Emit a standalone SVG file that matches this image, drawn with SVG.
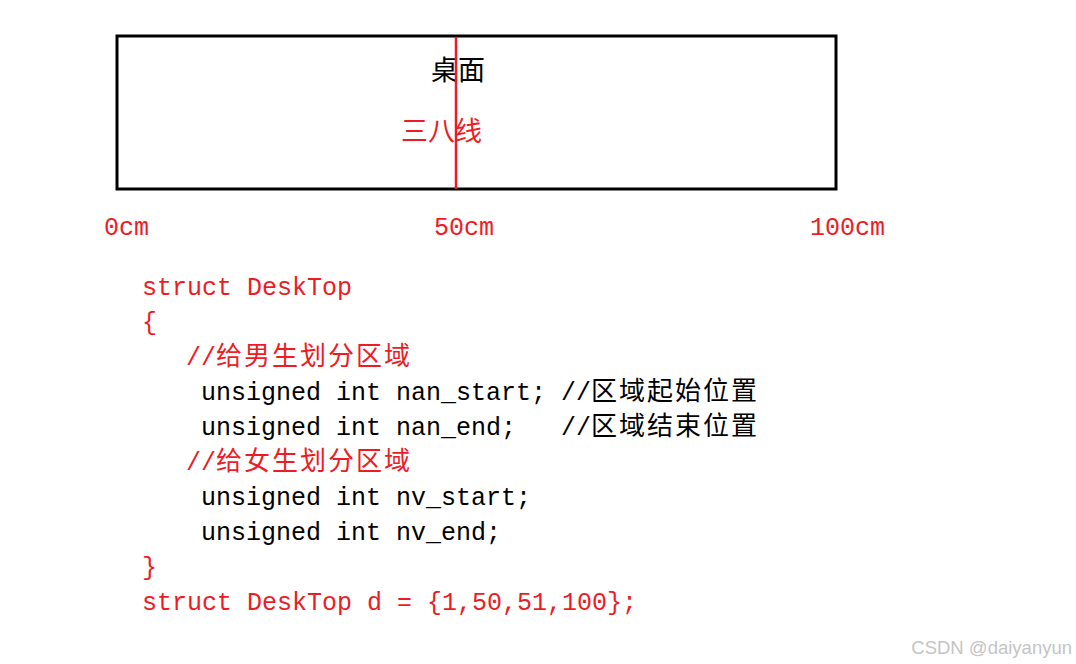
<svg xmlns="http://www.w3.org/2000/svg" width="1076" height="664" viewBox="0 0 1076 664">
<style>
.m{font-family:"Liberation Mono","Noto Sans CJK SC",monospace;font-size:25px}
.c{font-family:"Noto Sans CJK SC","Liberation Serif",serif;font-size:26px;letter-spacing:2px}
.t{font-family:"Noto Sans CJK SC","Liberation Serif",serif;font-size:27px}
.r{fill:#ed1c24}
.k{fill:#000}
</style>
<rect width="1076" height="664" fill="#fff"/>
<g id="desk">
<rect x="117" y="36" width="719" height="153" fill="none" stroke="#000" stroke-width="3"/>
<text x="431" y="80" class="t k">桌面</text>
</g>
<g id="line38">
<line x1="456" y1="37" x2="456" y2="189" stroke="#ed1c24" stroke-width="2.5"/>
<text x="401" y="141" class="t r">三八线</text>
</g>
<g id="scale">
<text x="104" y="235" class="m r">0cm</text>
<text x="434" y="235" class="m r">50cm</text>
<text x="810" y="235" class="m r">100cm</text>
</g>
<g id="code">
<text x="142" y="295" class="m r">struct DeskTop</text>
<text x="142" y="330" class="m r">{</text>
<text x="186" y="365" class="m r">//<tspan class="c">给男生划分区域</tspan></text>
<text x="201" y="400" class="m k">unsigned int nan_start; //<tspan class="c">区域起始位置</tspan></text>
<text x="201" y="435" class="m k" xml:space="preserve">unsigned int nan_end;   //<tspan class="c">区域结束位置</tspan></text>
<text x="186" y="470" class="m r">//<tspan class="c">给女生划分区域</tspan></text>
<text x="201" y="505" class="m k">unsigned int nv_start;</text>
<text x="201" y="540" class="m k">unsigned int nv_end;</text>
<text x="142" y="575" class="m r">}</text>
<text x="142" y="610" class="m r">struct DeskTop d = {1,50,51,100};</text>
</g>
<text x="1072" y="654" text-anchor="end" font-family="Liberation Sans,Arial,sans-serif" font-size="18.5" fill="#c4c4c4">CSDN @daiyanyun</text>
</svg>
